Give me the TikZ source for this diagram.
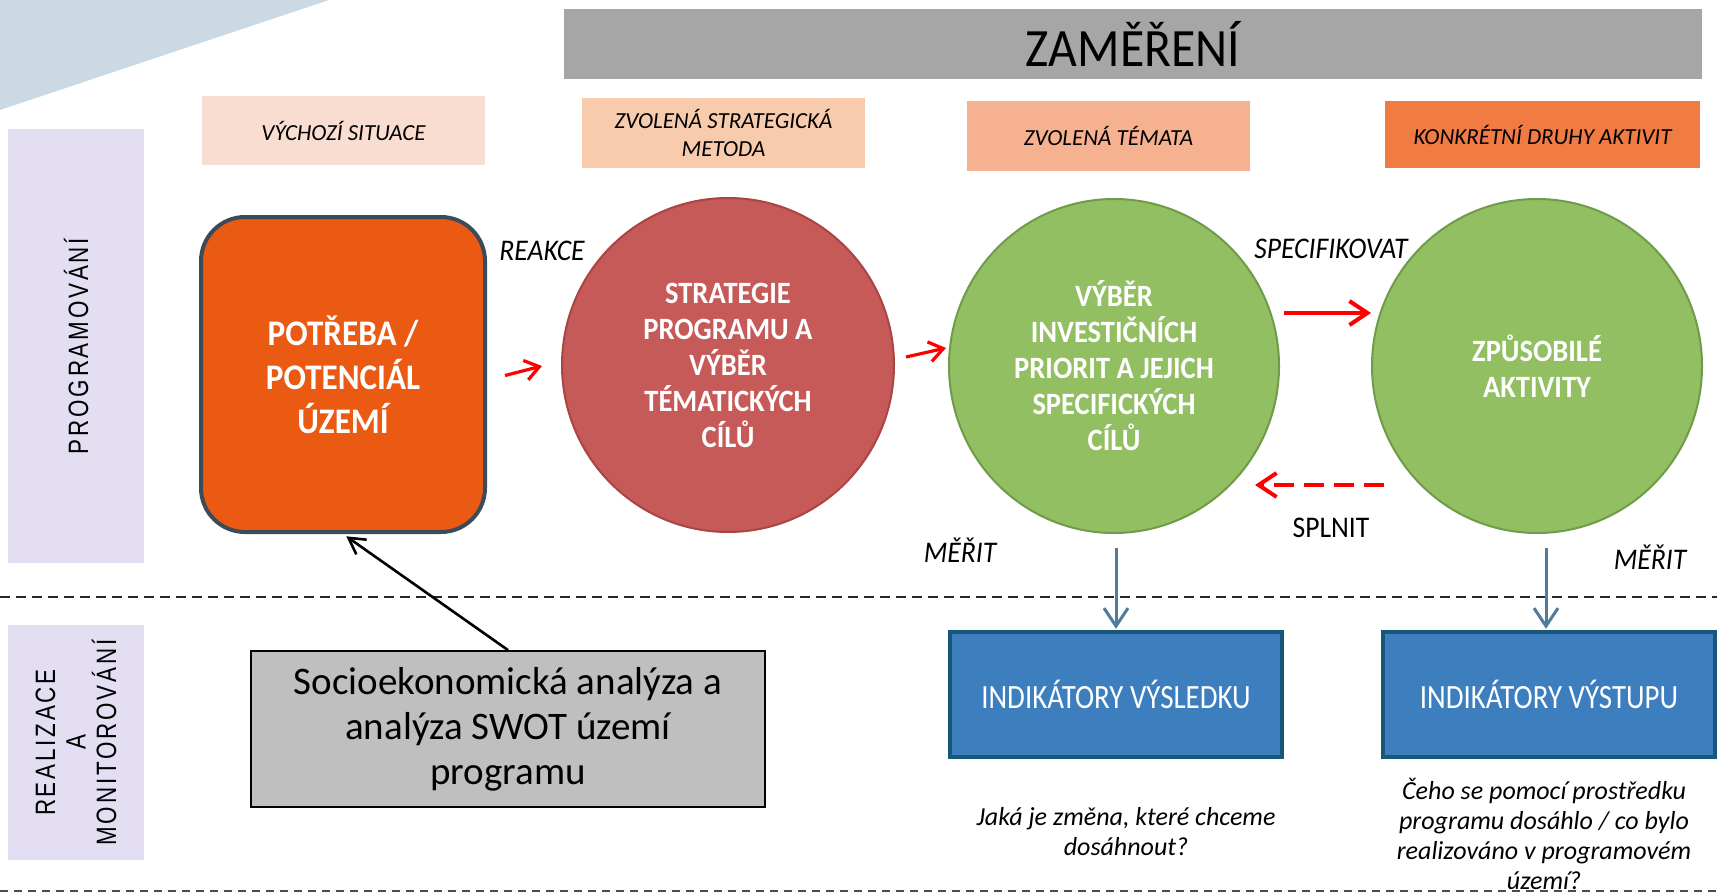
\documentclass[tikz,border=0pt]{standalone}
\usepackage{fontspec}
\setmainfont{Carlito}
\newfontfamily\condfont[FakeStretch=0.92]{Carlito}
\newfontfamily\narrowfont[FakeStretch=0.85]{Carlito}
\newfontfamily\sidefont[FakeStretch=0.8,LetterSpace=10]{Liberation Sans}
\usetikzlibrary{shapes.geometric,arrows.meta,calc}
\definecolor{tricol}{HTML}{CBDAE2}
\definecolor{zamgray}{HTML}{A6A6A6}
\definecolor{hdrA}{HTML}{FADDD1}
\definecolor{hdrB}{HTML}{F8CBAD}
\definecolor{hdrC}{HTML}{F5B190}
\definecolor{hdrD}{HTML}{F07B43}
\definecolor{lav}{HTML}{E4DEF2}
\definecolor{needfill}{HTML}{EB5A13}
\definecolor{needline}{HTML}{3B4B59}
\definecolor{redfill}{HTML}{C55A58}
\definecolor{redline}{HTML}{A94543}
\definecolor{grnfill}{HTML}{91BF61}
\definecolor{grnline}{HTML}{6F9B4A}
\definecolor{bluefill}{HTML}{3D7EBF}
\definecolor{blueline}{HTML}{17587A}
\definecolor{bluearrcol}{HTML}{4F7B9D}
\definecolor{grayfill}{HTML}{BFBFBF}
\definecolor{arrred}{HTML}{FF0000}
\begin{document}
\begin{tikzpicture}[x=0.5pt,y=-0.5pt,
  hdr/.style={inner sep=0pt, minimum width=141.5pt, minimum height=34.5pt, align=center,
    font=\fontsize{11.5}{14}\selectfont\itshape},
  panel/.style={fill=lav, inner sep=0pt, rotate=90, align=center,
    font=\sidefont\fontsize{14}{15.3}\selectfont},
  circ/.style={ellipse, line width=1pt, inner sep=0pt, text=white, align=center,
    font=\condfont\bfseries\fontsize{15.5}{18}\selectfont},
  indbox/.style={fill=bluefill, draw=blueline, line width=2.2pt, minimum width=166pt,
    minimum height=62.5pt, text=white, font=\narrowfont\fontsize{17}{20}\selectfont},
  lbl/.style={inner sep=0pt, font=\condfont\fontsize{15}{18}\selectfont\itshape},
  qtext/.style={inner sep=0pt, align=center, font=\fontsize{13}{15}\selectfont\itshape},
  redarr/.style={draw=arrred, line width=1.6pt, -{Straight Barb[length=7pt,width=10pt]}},
  redbig/.style={draw=arrred, line width=2pt, -{Straight Barb[length=9pt,width=12pt]}},
  bluearr/.style={draw=bluearrcol, line width=1.5pt, -{Straight Barb[length=9pt,width=12pt]}},
  blackarr/.style={draw=black, line width=1.3pt, -{Straight Barb[length=8pt,width=9pt]}}]
\useasboundingbox (0,0) rectangle (1717,894);
% background triangle
\fill[tricol] (0,0) -- (329,0) -- (0,110) -- cycle;
% top bar
\node[fill=zamgray, minimum width=569pt, minimum height=35pt, inner sep=0pt,
  font=\condfont\fontsize{27}{30}\selectfont] (zam) at (1133,44) {ZAMĚŘENÍ};
% header labels
\node[hdr, fill=hdrA] (h1) at (343.5,130.5) {VÝCHOZÍ SITUACE};
\node[hdr, fill=hdrB, minimum height=35pt] (h2) at (723.5,133) {ZVOLENÁ STRATEGICKÁ\\METODA};
\node[hdr, fill=hdrC, minimum height=35pt] (h3) at (1108.5,136) {ZVOLENÁ TÉMATA};
\node[hdr, fill=hdrD, minimum width=157.5pt, minimum height=33.5pt] (h4) at (1542.5,134.5) {KONKRÉTNÍ DRUHY AKTIVIT};
% side panels
\node[panel, minimum width=217pt, minimum height=68pt] (prog) at (76,346) {PROGRAMOVÁNÍ};
\node[panel, minimum width=117.5pt, minimum height=68pt] (real) at (76,742.5) {REALIZACE\\A\\MONITOROVÁNÍ};
% dashed separators
\draw[line width=1.3pt, draw=black!85, dash pattern=on 5pt off 3pt] (0,597) -- (1717,597);
\draw[line width=0.8pt, draw=black!70, dash pattern=on 4pt off 3pt] (0,891) -- (1717,891);
% main shapes
\node[fill=needfill, draw=needline, line width=2pt, rounded corners=22pt,
  minimum width=142pt, minimum height=157.5pt, inner sep=0pt, text=white, align=center,
  font=\condfont\bfseries\fontsize{18}{22}\selectfont] (need) at (343,374.5)
  {POTŘEBA /\\POTENCIÁL\\ÚZEMÍ};
\node[circ, fill=redfill, draw=redline, minimum width=166pt, minimum height=167pt] (strat) at (728,365)
  {STRATEGIE\\PROGRAMU A\\VÝBĚR\\TÉMATICKÝCH\\CÍLŮ};
\node[circ, fill=grnfill, draw=grnline, minimum width=165pt, minimum height=167pt] (g1) at (1114,366)
  {VÝBĚR\\INVESTIČNÍCH\\PRIORIT A JEJICH\\SPECIFICKÝCH\\CÍLŮ};
\node[circ, fill=grnfill, draw=grnline, minimum width=165pt, minimum height=167pt] (g2) at (1537,366)
  {ZPŮSOBILÉ\\AKTIVITY};
% indicator boxes
\node[indbox] (ind1) at (1116,694.5) {INDIKÁTORY VÝSLEDKU};
\node[indbox] (ind2) at (1549,694.5) {INDIKÁTORY VÝSTUPU};
% gray box
\node[fill=grayfill, draw=black, line width=0.9pt, minimum width=257pt, minimum height=78pt,
  inner sep=0pt, align=center, font=\fontsize{19.5}{22.5}\selectfont] (swot) at (508,729)
  {Socioekonomická analýza a\\analýza SWOT území\\programu};
% red arrows
\draw[redarr] ($(need.east)+(18,1)$) -- ($(strat.west)+(-19,1)$);
\draw[redarr] ($(strat.east)+(11,-8)$) -- ($(g1.west)+(-2,-18)$);
\draw[redbig] ($(g1.east)+(4,-53)$) -- ($(g2.west)+(0,-53)$);
\draw[redbig, dash pattern=on 10pt off 5pt] ($(g2.west)+(13,119)$) -- ($(g1.east)+(-25,119)$);
% blue arrows
\draw[bluearr] ($(g1.south)+(2,14)$) -- ($(ind1.north)+(0,-1)$);
\draw[bluearr] ($(g2.south)+(9,14)$) -- ($(ind2.north)+(-3,-1)$);
% black arrow
\draw[blackarr, shorten >=2pt] (swot.north) -- (need.south);
% labels
\node[lbl] (reakce) at (542,251) {REAKCE};
\node[lbl] (spec) at (1331,249) {SPECIFIKOVAT};
\node[lbl, font=\condfont\fontsize{15}{18}\selectfont] (splnit) at (1331,528) {SPLNIT};
\node[lbl] (mer1) at (960,550) {MĚŘIT};
\node[lbl] (mer2) at (1650,557) {MĚŘIT};
% questions
\node[qtext] (q1) at (1126,832) {Jaká je změna, které chceme\\dosáhnout?};
\node[qtext] (q2) at (1544,834) {Čeho se pomocí prostředku\\programu dosáhlo / co bylo\\realizováno v programovém\\území?};
\end{tikzpicture}
\end{document}
